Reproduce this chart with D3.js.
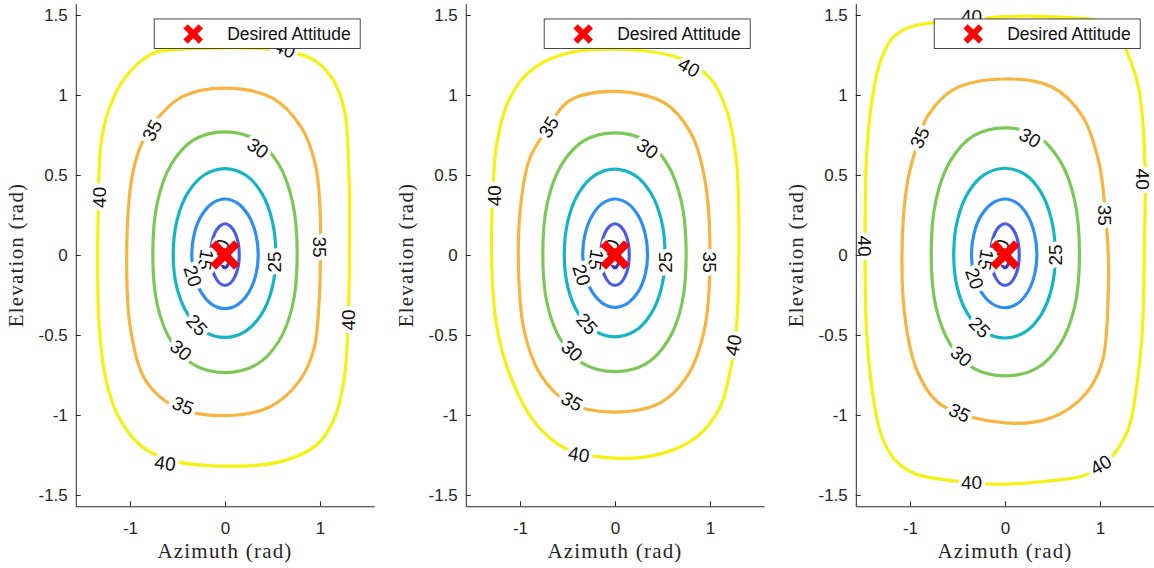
<!DOCTYPE html>
<html>
<head>
<meta charset="utf-8">
<script src="https://cdn.jsdelivr.net/npm/d3@7"></script>
<style>
body { margin: 0; background: #fff; }
.axis text { font-family: "Liberation Sans", Arial, sans-serif; font-size: 17px; fill: #262626; }
.axis path, .axis line { stroke: #262626; }
.axis-title { font-family: "Liberation Serif", "Times New Roman", serif; font-size: 21px; letter-spacing: 1.2px; fill: #262626; }
.clabel { font-family: "Liberation Sans", Arial, sans-serif; font-size: 19px; fill: #111; }
.legend-text { font-family: "Liberation Sans", Arial, sans-serif; font-size: 17.5px; fill: #111; }
</style>
</head>
<body>
<svg id="chart" width="1154" height="568"></svg>
<script>
// axis limits and ticks
const axisLimits = [-Math.PI / 2, Math.PI / 2];
const xTicks = [-1, 0, 1];
const yTicks = [-1.5, -1, -0.5, 0, 0.5, 1, 1.5];
const target = [0, 0];
const legendLabel = 'Desired Attitude';

const levels = [10, 15, 20, 25, 30, 35, 40];

// contour lines, [azimuth, elevation]
const ring10 = [[0.05, 0], [0.035, 0.05], [0, 0.07], [-0.035, 0.05], [-0.05, 0], [-0.035, -0.055], [0, -0.08], [0.035, -0.055]];
const ring15 = [[0.15, 0], [0.139, 0.075], [0.106, 0.138], [0.057, 0.18], [0, 0.195], [-0.057, 0.18], [-0.106, 0.138], [-0.139, 0.075],
    [-0.15, 0], [-0.139, -0.073], [-0.106, -0.134], [-0.057, -0.176], [0, -0.19], [0.057, -0.176], [0.106, -0.134], [0.139, -0.073]];

const contoursA = [
    {level: 10, points: ring10},
    {level: 15, points: ring15},
    {level: 20, points: [[0.35, 0], [0.323, 0.134], [0.247, 0.247], [0.134, 0.323], [0, 0.35], [-0.134, 0.323], [-0.247, 0.247], [-0.323, 0.134],
        [-0.35, 0], [-0.323, -0.128], [-0.247, -0.237], [-0.134, -0.31], [0, -0.335], [0.134, -0.31], [0.247, -0.237], [0.323, -0.128]]},
    {level: 25, points: [[0.535, 0], [0.496, 0.217], [0.385, 0.388], [0.215, 0.5], [0, 0.54], [-0.219, 0.5], [-0.392, 0.388], [-0.505, 0.217],
        [-0.545, 0], [-0.505, -0.207], [-0.392, -0.37], [-0.219, -0.477], [0, -0.515], [0.215, -0.477], [0.385, -0.37], [0.496, -0.207]]},
    {level: 30, points: [[0.76, 0], [0.71, 0.334], [0.562, 0.57], [0.33, 0.719], [0, 0.77], [-0.33, 0.719], [-0.562, 0.57], [-0.71, 0.334],
        [-0.76, 0], [-0.71, -0.319], [-0.562, -0.544], [-0.33, -0.686], [0, -0.735], [0.33, -0.686], [0.562, -0.544], [0.71, -0.319]]},
    {level: 35, points: [[1.005, 0], [1.0, 0.3], [0.95, 0.57], [0.8, 0.8], [0.5, 0.98], [0, 1.043], [-0.45, 0.99], [-0.689, 0.869], [-0.866, 0.711],
        [-0.975, 0.5], [-1.035, 0], [-0.99, -0.48], [-0.83, -0.79], [-0.52, -0.95], [0, -1.004], [0.47, -0.95], [0.78, -0.79], [0.935, -0.59], [0.99, -0.3]]},
    {level: 40, points: [[1.31, 0], [1.307, 0.463], [1.254, 0.914], [1.113, 1.117], [0.9, 1.23], [0.5, 1.285], [0, 1.295], [-0.5, 1.285], [-0.76, 1.26],
        [-1.04, 1.117], [-1.22, 0.914], [-1.307, 0.688], [-1.335, 0.237], [-1.34, 0], [-1.325, -0.44], [-1.254, -0.778], [-1.13, -1.0], [-0.9, -1.185],
        [-0.62, -1.275], [0, -1.32], [0.618, -1.287], [0.97, -1.185], [1.148, -1.027], [1.254, -0.778], [1.295, -0.44]]}
];
const contoursB = [
    {level: 10, points: ring10},
    {level: 15, points: ring15},
    {level: 20, points: [[0.343, 0], [0.317, 0.134], [0.243, 0.247], [0.131, 0.323], [0, 0.35], [-0.13, 0.323], [-0.24, 0.247], [-0.314, 0.134],
        [-0.34, 0], [-0.314, -0.125], [-0.24, -0.231], [-0.13, -0.302], [0, -0.327], [0.131, -0.302], [0.243, -0.231], [0.317, -0.125]]},
    {level: 25, points: [[0.527, 0], [0.489, 0.215], [0.379, 0.386], [0.211, 0.498], [0, 0.537], [-0.214, 0.498], [-0.384, 0.386], [-0.495, 0.215],
        [-0.534, 0], [-0.495, -0.205], [-0.384, -0.368], [-0.214, -0.475], [0, -0.512], [0.211, -0.475], [0.379, -0.368], [0.489, -0.205]]},
    {level: 30, points: [[0.749, 0], [0.7, 0.331], [0.554, 0.565], [0.325, 0.713], [0, 0.763], [-0.33, 0.713], [-0.562, 0.565], [-0.71, 0.331],
        [-0.76, 0], [-0.71, -0.316], [-0.562, -0.539], [-0.33, -0.681], [0, -0.729], [0.325, -0.681], [0.554, -0.539], [0.7, -0.316]]},
    {level: 35, points: [[1.0, 0], [0.941, 0.488], [0.8, 0.76], [0.52, 0.95], [0, 1.022], [-0.486, 0.962], [-0.7, 0.8], [-0.9, 0.6], [-0.985, 0.35],
        [-1.018, 0], [-0.958, -0.468], [-0.78, -0.752], [-0.486, -0.924], [0, -0.982], [0.477, -0.924], [0.766, -0.752], [0.941, -0.468]]},
    {level: 40, points: [[1.304, 0], [1.28, 0.575], [1.17, 0.914], [1.0, 1.106], [0.68, 1.23], [0, 1.286], [-0.56, 1.252], [-0.912, 1.14], [-1.124, 0.959],
        [-1.247, 0.688], [-1.285, 0.4], [-1.3, 0], [-1.247, -0.44], [-1.088, -0.778], [-0.84, -1.05], [-0.523, -1.208], [0, -1.27], [0.5, -1.24],
        [0.855, -1.14], [1.1, -0.96], [1.21, -0.733], [1.28, -0.44]]}
];
const contoursC = [
    {level: 10, points: ring10},
    {level: 15, points: ring15},
    {level: 20, points: [[0.336, 0], [0.31, 0.134], [0.238, 0.247], [0.129, 0.323], [0, 0.35], [-0.135, 0.323], [-0.25, 0.247], [-0.326, 0.134],
        [-0.353, 0], [-0.326, -0.126], [-0.25, -0.233], [-0.135, -0.305], [0, -0.33], [0.129, -0.305], [0.238, -0.233], [0.31, -0.126]]},
    {level: 25, points: [[0.53, 0], [0.491, 0.217], [0.381, 0.39], [0.213, 0.502], [0, 0.542], [-0.217, 0.502], [-0.388, 0.39], [-0.501, 0.217],
        [-0.54, 0], [-0.501, -0.208], [-0.388, -0.373], [-0.217, -0.481], [0, -0.519], [0.213, -0.481], [0.381, -0.373], [0.491, -0.208]]},
    {level: 30, points: [[0.784, 0], [0.732, 0.345], [0.58, 0.588], [0.34, 0.743], [0, 0.795], [-0.337, 0.743], [-0.575, 0.588], [-0.726, 0.345],
        [-0.777, 0], [-0.726, -0.328], [-0.575, -0.559], [-0.337, -0.706], [0, -0.756], [0.34, -0.706], [0.58, -0.559], [0.732, -0.328]]},
    {level: 35, points: [[1.088, 0], [1.06, 0.237], [0.99, 0.576], [0.813, 0.869], [0.495, 1.05], [0, 1.1], [-0.53, 1.038], [-0.813, 0.869], [-0.9, 0.734],
        [-1.025, 0.463], [-1.085, 0], [-1.042, -0.44], [-0.919, -0.733], [-0.671, -0.937], [0, -1.05], [0.495, -1.016], [0.848, -0.869], [1.025, -0.666], [1.088, -0.214]]},
    {level: 40, points: [[1.466, 0], [1.473, 0.576], [1.413, 1.027], [1.325, 1.208], [1.2, 1.366], [1.025, 1.456], [0.671, 1.483], [0, 1.49], [-0.389, 1.467],
        [-0.848, 1.445], [-1.06, 1.41], [-1.2, 1.343], [-1.325, 1.185], [-1.413, 0.914], [-1.46, 0.576], [-1.473, 0], [-1.46, -0.44], [-1.413, -0.778],
        [-1.307, -1.117], [-1.166, -1.275], [-0.954, -1.366], [-0.565, -1.41], [0, -1.433], [0.495, -1.41], [0.777, -1.388], [1.0, -1.33], [1.166, -1.23],
        [1.307, -1.072], [1.396, -0.778], [1.449, -0.44]]}
];

// contour labels: [level, azimuth, elevation, angle]
const labelsA = [
    [10, -0.053, 0.031, -70], [15, -0.2, -0.03, 100], [20, -0.337, -0.131, 72],
    [25, 0.52, -0.044, -90], [25, -0.295, -0.437, 48],
    [30, 0.347, 0.669, 35], [30, -0.463, -0.594, 40],
    [35, -0.77, 0.78, -62], [35, 1.0, 0.05, 90], [35, -0.442, -0.94, 22],
    [40, -1.33, 0.36, -90], [40, 0.63, 1.29, 22], [40, 1.298, -0.406, -90], [40, -0.63, -1.3, 8]
];
const labelsB = [
    [10, -0.053, 0.031, -70], [15, -0.2, -0.03, 100], [20, -0.35, -0.124, 72],
    [25, 0.525, -0.045, -90], [25, -0.293, -0.429, 48],
    [30, 0.343, 0.666, 35], [30, -0.452, -0.598, 42],
    [35, -0.7, 0.8, -60], [35, 1.0, -0.045, 90], [35, -0.452, -0.914, 28],
    [40, -1.27, 0.37, -90], [40, 0.78, 1.175, 30], [40, 1.244, -0.564, -78], [40, -0.38, -1.245, 10]
];
const labelsC = [
    [10, -0.053, 0.031, -70], [15, -0.2, -0.03, 100], [20, -0.318, -0.147, 70],
    [25, 0.53, 0, -90], [25, -0.265, -0.451, 45],
    [30, 0.265, 0.734, 30], [30, -0.459, -0.632, 40],
    [35, -0.9, 0.734, -65], [35, 1.055, 0.248, 90], [35, -0.477, -0.985, 25],
    [40, -0.353, 1.49, 0], [40, -1.475, 0.056, 90], [40, 1.45, 0.474, 90], [40, -0.353, -1.422, 0], [40, 1.007, -1.31, -30]
];

const levelColors = ['#4135b5', '#4a5ce6', '#2e8ff0', '#15b5c5', '#7cc856', '#f7b43e', '#f4f20e'];
const colorScale = d3.scaleOrdinal().domain(levels).range(levelColors);

const PANEL = { top: 3.67, width: 298.4, height: 502.6 };
const PANEL_LEFT = [75.8, 465.8, 855.8];

let svg = d3.select('#chart');

[[contoursA, labelsA], [contoursB, labelsB], [contoursC, labelsC]].forEach(function (d, i) {
    drawPanel(svg, i, d[0], d[1]);
});

function drawPanel(svg, idx, contours, labels) {
    let left = PANEL_LEFT[idx];
    let x = d3.scaleLinear().domain(axisLimits).range([0, PANEL.width]);
    let y = d3.scaleLinear().domain(axisLimits).range([PANEL.height, 0]);

    let g = svg.append('g')
        .attr('transform', 'translate(' + left + ',' + PANEL.top + ')');

    let clipId = 'clip' + idx;
    g.append('clipPath').attr('id', clipId)
        .append('rect')
        .attr('width', PANEL.width)
        .attr('height', PANEL.height);

    let plot = g.append('g').attr('clip-path', 'url(#' + clipId + ')');

    let line = d3.line()
        .x(p => x(p[0]))
        .y(p => y(p[1]))
        .curve(d3.curveCatmullRomClosed.alpha(0.5));

    plot.selectAll('path.contour')
        .data(contours)
        .enter().append('path')
        .attr('class', 'contour')
        .attr('d', c => line(c.points))
        .attr('fill', 'none')
        .attr('stroke', c => colorScale(c.level))
        .attr('stroke-width', 3.2);

    // labels with a white halo, which breaks the line like clabel does
    plot.selectAll('text.clabel')
        .data(labels)
        .enter().append('text')
        .attr('class', 'clabel')
        .attr('transform', l => 'translate(' + x(l[1]) + ',' + y(l[2]) + ') rotate(' + l[3] + ')')
        .attr('text-anchor', 'middle')
        .attr('dy', '0.36em')
        .attr('stroke', '#fff')
        .attr('stroke-width', 8)
        .attr('stroke-linejoin', 'round')
        .attr('paint-order', 'stroke')
        .text(l => l[0]);

    // desired attitude marker
    drawCross(plot, x(target[0]), y(target[1]), 9, 8);

    // legend
    let lg = g.append('g')
        .attr('transform', 'translate(' + (PANEL.width - 14 - 206) + ',' + 15.3 + ')');
    lg.append('rect')
        .attr('width', 206)
        .attr('height', 29.5)
        .attr('fill', '#fff')
        .attr('stroke', '#333')
        .attr('stroke-width', 0.9);
    drawCross(lg, 39, 15, 5.5, 6);
    lg.append('text')
        .attr('class', 'legend-text')
        .attr('x', 73)
        .attr('y', 21)
        .text(legendLabel);

    // axes
    let xAxis = d3.axisBottom(x)
        .tickValues(xTicks)
        .tickSizeInner(-5)
        .tickSizeOuter(0)
        .tickPadding(16)
        .tickFormat(d3.format('~g'));
    g.append('g')
        .attr('class', 'axis')
        .attr('transform', 'translate(0,' + PANEL.height + ')')
        .call(xAxis);

    let yAxis = d3.axisLeft(y)
        .tickValues(yTicks)
        .tickSizeInner(-5)
        .tickSizeOuter(0)
        .tickPadding(8)
        .tickFormat(d3.format('~g'));
    g.append('g')
        .attr('class', 'axis')
        .call(yAxis);

    g.selectAll('.axis text').attr('font-family', null).attr('font-size', null);
    g.selectAll('.axis .tick text').text(function () { return this.textContent.replace('−', '-'); });

    g.append('text')
        .attr('class', 'axis-title')
        .attr('text-anchor', 'middle')
        .attr('x', PANEL.width / 2)
        .attr('y', PANEL.height + 51.5)
        .text('Azimuth (rad)');

    g.append('text')
        .attr('class', 'axis-title')
        .attr('text-anchor', 'middle')
        .attr('transform', 'translate(' + (-53) + ',' + (PANEL.height / 2) + ') rotate(-90)')
        .text('Elevation (rad)');
}

function drawCross(sel, cx, cy, r, w) {
    sel.append('path')
        .attr('d', 'M' + (cx - r) + ',' + (cy - r) + 'L' + (cx + r) + ',' + (cy + r) +
            'M' + (cx - r) + ',' + (cy + r) + 'L' + (cx + r) + ',' + (cy - r))
        .attr('stroke', '#ff0000')
        .attr('stroke-width', w)
        .attr('stroke-linecap', 'square')
        .attr('fill', 'none');
}
</script>
</body>
</html>
